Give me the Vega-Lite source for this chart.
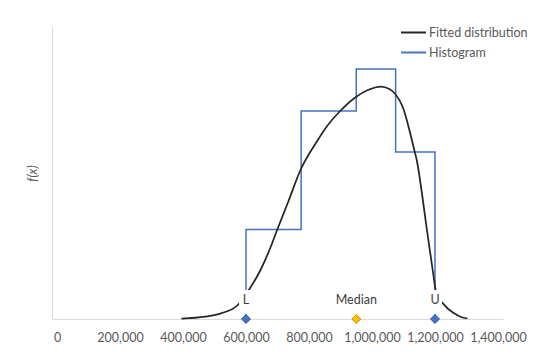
{
  "$schema": "https://vega.github.io/schema/vega-lite/v6.json",
  "width": 451,
  "height": 292,
  "autosize": "none",
  "padding": {"left": 52, "top": 27, "right": 42, "bottom": 37},
  "background": "white",
  "config": {
    "view": {"stroke": null},
    "font": "Lato",
    "axisX": {
      "title": null,
      "format": ",.0f",
      "grid": false,
      "ticks": false,
      "domainColor": "#d9d9d9",
      "domainWidth": 1,
      "labelColor": "#595959",
      "labelFont": "Lato",
      "labelFontSize": 12.5,
      "labelPadding": 12,
      "labelFlush": false,
      "labelOverlap": false
    },
    "axisY": {
      "titleFontStyle": "italic",
      "titleFontWeight": "normal",
      "titleFont": "Lato",
      "titleFontSize": 12.5,
      "titleColor": "#595959",
      "titlePadding": 13,
      "labels": false,
      "ticks": false,
      "grid": false,
      "domainColor": "#d9d9d9",
      "domainWidth": 1
    }
  },
  "datasets": {
    "curve": [
      {"x": 395000, "f": 0.003},
      {"x": 470000, "f": 0.023},
      {"x": 521000, "f": 0.057},
      {"x": 574000, "f": 0.14},
      {"x": 609000, "f": 0.29},
      {"x": 646000, "f": 0.49},
      {"x": 677000, "f": 0.71},
      {"x": 700000, "f": 0.90},
      {"x": 735000, "f": 1.18},
      {"x": 773000, "f": 1.49},
      {"x": 822000, "f": 1.76},
      {"x": 860000, "f": 1.94},
      {"x": 899000, "f": 2.08},
      {"x": 949000, "f": 2.22},
      {"x": 987000, "f": 2.29},
      {"x": 1028000, "f": 2.325},
      {"x": 1055000, "f": 2.30},
      {"x": 1071000, "f": 2.26},
      {"x": 1101000, "f": 2.09},
      {"x": 1121000, "f": 1.86},
      {"x": 1135000, "f": 1.68},
      {"x": 1142000, "f": 1.59},
      {"x": 1158000, "f": 1.27},
      {"x": 1173000, "f": 0.92},
      {"x": 1194000, "f": 0.46},
      {"x": 1202000, "f": 0.29},
      {"x": 1211000, "f": 0.21},
      {"x": 1225000, "f": 0.157},
      {"x": 1242000, "f": 0.10},
      {"x": 1261000, "f": 0.057},
      {"x": 1282000, "f": 0.02},
      {"x": 1303000, "f": 0.005}
    ],
    "hist": [
      {"i": 0, "x": 600000, "f": 0},
      {"i": 1, "x": 600000, "f": 0.895},
      {"i": 2, "x": 775000, "f": 0.895},
      {"i": 3, "x": 775000, "f": 2.08},
      {"i": 4, "x": 950000, "f": 2.08},
      {"i": 5, "x": 950000, "f": 2.50},
      {"i": 6, "x": 1075000, "f": 2.50},
      {"i": 7, "x": 1075000, "f": 1.67},
      {"i": 8, "x": 1200000, "f": 1.67},
      {"i": 9, "x": 1200000, "f": 0}
    ],
    "markers": [
      {"name": "L", "x": 600000, "kind": "bound"},
      {"name": "Median", "x": 950000, "kind": "median"},
      {"name": "U", "x": 1200000, "kind": "bound"}
    ]
  },
  "layer": [
    {
      "data": {"name": "hist"},
      "mark": {"type": "line", "strokeWidth": 1.5, "interpolate": "linear"},
      "encoding": {
        "x": {
          "field": "x",
          "type": "quantitative",
          "scale": {"domain": [0, 1400000], "nice": false, "zero": false},
          "axis": {"values": [0, 200000, 400000, 600000, 800000, 1000000, 1200000, 1400000]}
        },
        "y": {"field": "f", "type": "quantitative", "scale": {"domain": [0, 2.92], "nice": false}, "axis": {"title": "f(x)"}},
        "order": {"field": "i", "type": "quantitative"},
        "color": {
          "datum": "Histogram",
          "type": "nominal",
          "scale": {"domain": ["Fitted distribution", "Histogram"], "range": ["#262626", "#4472C4"]},
          "legend": {
            "title": null,
            "orient": "none",
            "legendX": 348,
            "legendY": -8,
            "symbolType": "stroke",
            "symbolSize": 625,
            "symbolStrokeWidth": 2,
            "labelFont": "Lato",
            "labelFontSize": 12.5,
            "labelColor": "#595959",
            "labelOffset": 2,
            "rowPadding": -5
          }
        }
      }
    },
    {
      "data": {"name": "curve"},
      "mark": {"type": "line", "strokeWidth": 1.75, "interpolate": "monotone"},
      "encoding": {
        "x": {"field": "x", "type": "quantitative"},
        "y": {"field": "f", "type": "quantitative"},
        "color": {"datum": "Fitted distribution", "type": "nominal"}
      }
    },
    {
      "data": {"name": "markers"},
      "transform": [{"filter": "datum.kind == 'bound'"}],
      "mark": {"type": "bar", "color": "white", "size": 14},
      "encoding": {
        "x": {"field": "x", "type": "quantitative"},
        "y": {"datum": 0.05, "type": "quantitative"},
        "y2": {"datum": 0.29}
      }
    },
    {
      "data": {"name": "markers"},
      "mark": {"type": "text", "fontSize": 12.5, "font": "Lato", "color": "#404040", "dy": -19},
      "encoding": {
        "x": {"field": "x", "type": "quantitative"},
        "y": {"datum": 0, "type": "quantitative"},
        "text": {"field": "name", "type": "nominal"}
      }
    },
    {
      "data": {"name": "markers"},
      "mark": {"type": "point", "shape": "diamond", "filled": true, "size": 80, "strokeWidth": 1, "opacity": 1},
      "encoding": {
        "x": {"field": "x", "type": "quantitative"},
        "y": {"datum": 0, "type": "quantitative"},
        "fill": {
          "field": "kind",
          "type": "nominal",
          "scale": {"domain": ["bound", "median"], "range": ["#4472C4", "#FFC000"]},
          "legend": null
        },
        "stroke": {
          "field": "kind",
          "type": "nominal",
          "scale": {"domain": ["bound", "median"], "range": ["#2F528F", "#BF9000"]},
          "legend": null
        }
      }
    }
  ]
}
